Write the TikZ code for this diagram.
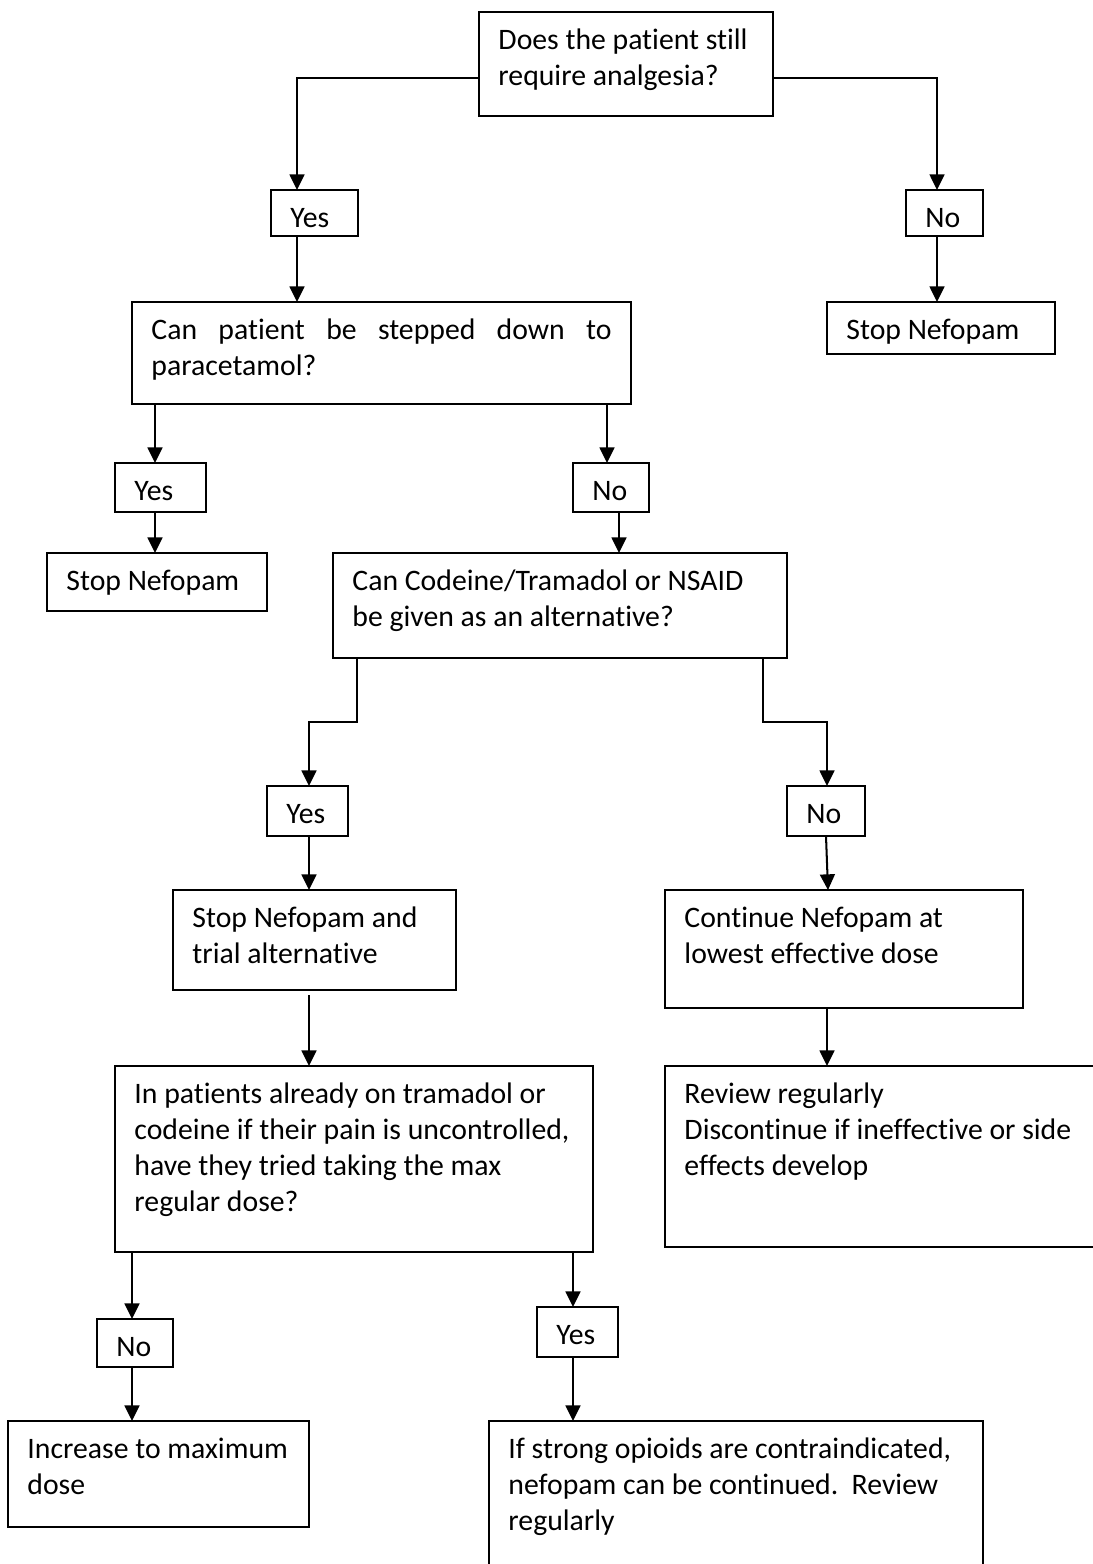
\documentclass[tikz,border=0pt]{standalone}
\usepackage{fontspec}
\setmainfont{Carlito}[Ligatures=NoCommon]
\usetikzlibrary{arrows.meta,calc,positioning}
\newdimen\pxu
\pxu=0.37pt
\newcommand{\flowtext}[3]{\parbox[t][#2\pxu][t]{\dimexpr#1\pxu-14.4pt\relax}{\rule{0pt}{14pt}#3}}

\begin{document}
\begin{tikzpicture}[x=0.37pt,y=-0.37pt,every node/.style={font=\fontsize{11}{13.3}\selectfont},
  box/.style={draw,line width=0.75pt,anchor=north west,inner xsep=7.2pt,inner ysep=0pt,outer sep=0pt},
  arr/.style={line width=0.75pt,-{Triangle[length=5.8pt,width=5.5pt]}}]
  \path[use as bounding box,clip] (0,0) rectangle (1093,1564);
  \node[box] (q1) at (479,12) {\flowtext{294}{104}{Does the patient still\\require analgesia?}};
  \node[box] (yes1) at (271,190) {\flowtext{87}{46}{Yes}};
  \node[box] (no1) at (906,190) {\flowtext{77}{46}{No}};
  \node[box] (q2) at (132,302) {\flowtext{499}{102}{Can patient be stepped down to\linebreak paracetamol?}};
  \node[box] (stopA) at (827,302) {\flowtext{228}{52}{Stop Nefopam}};
  \node[box] (yes2) at (115,463) {\flowtext{91}{49}{Yes}};
  \node[box] (no2) at (573,463) {\flowtext{76}{49}{No}};
  \node[box] (stopB) at (47,553) {\flowtext{220}{58}{Stop Nefopam}};
  \node[box] (q3) at (333,553) {\flowtext{454}{105}{Can Codeine/Tramadol or NSAID\\be given as an alternative?}};
  \node[box] (yes3) at (267,786) {\flowtext{81}{50}{Yes}};
  \node[box] (no3) at (787,786) {\flowtext{78}{50}{No}};
  \node[box] (trial) at (173,890) {\flowtext{283}{100}{Stop Nefopam and\\trial alternative}};
  \node[box] (cont) at (665,890) {\flowtext{358}{118}{Continue Nefopam at\\lowest effective dose}};
  \node[box] (q4) at (115,1066) {\flowtext{478}{186}{In patients already on tramadol or\\codeine if their pain is uncontrolled,\\have they tried taking the max\\regular dose?}};
  \node[box] (review) at (665,1066) {\flowtext{445}{181}{Review regularly\\Discontinue if ineffective or side\\effects develop}};
  \node[box] (no4) at (97,1319) {\flowtext{76}{48}{No}};
  \node[box] (yes4) at (537,1307) {\flowtext{81}{50}{Yes}};
  \node[box] (incr) at (8,1421) {\flowtext{301}{106}{Increase to maximum\\dose}};
  \node[box] (strong) at (489,1421) {\flowtext{494}{160}{If strong opioids are contraindicated,\\nefopam can be continued.\ \ Review\\regularly}};
  \draw[arr] ($(q1.north west)+(0,66)$) -| ($(yes1.north west)+(26,0)$);
  \draw[arr] ($(q1.north east)+(0,66)$) -| ($(no1.north west)+(31,0)$);
  \draw[arr] ($(yes1.south west)+(26,0)$) -- ($(q2.north west)+(165,0)$);
  \draw[arr] ($(no1.south west)+(31,0)$) -- ($(stopA.north west)+(110,0)$);
  \draw[arr] ($(q2.south west)+(23,0)$) -- ($(yes2.north west)+(40,0)$);
  \draw[arr] ($(q2.south west)+(475,0)$) -- ($(no2.north west)+(34,0)$);
  \draw[arr] ($(yes2.south west)+(40,0)$) -- ($(stopB.north west)+(108,0)$);
  \draw[arr] ($(no2.south west)+(46,0)$) -- ($(q3.north west)+(286,0)$);
  \draw[arr] ($(q3.south west)+(24,0)$) -- ++(0,64) -| ($(yes3.north west)+(42,0)$);
  \draw[arr] ($(q3.south west)+(430,0)$) -- ++(0,64) -| ($(no3.north west)+(40,0)$);
  \draw[arr] ($(yes3.south west)+(42,0)$) -- ($(trial.north west)+(136,0)$);
  \draw[arr] ($(no3.south west)+(39,0)$) -- ($(cont.north west)+(163,0)$);
  \draw[arr] ($(trial.south west)+(136,5)$) -- ($(q4.north west)+(194,0)$);
  \draw[arr] ($(cont.south west)+(162,0)$) -- ($(review.north west)+(162,0)$);
  \draw[arr] ($(q4.south west)+(17,0)$) -- ($(no4.north west)+(35,0)$);
  \draw[arr] ($(q4.south west)+(458,0)$) -- ($(yes4.north west)+(36,0)$);
  \draw[arr] ($(no4.south west)+(35,0)$) -- ($(incr.north west)+(124,0)$);
  \draw[arr] ($(yes4.south west)+(36,0)$) -- ($(strong.north west)+(84,0)$);
\end{tikzpicture}
\end{document}
